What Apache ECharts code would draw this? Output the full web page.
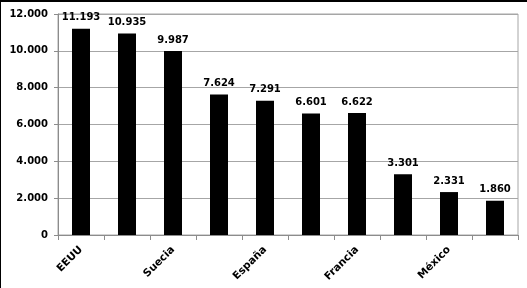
<!DOCTYPE html>
<html><head><meta charset="utf-8">
<script src="https://cdn.jsdelivr.net/npm/echarts@6/dist/echarts.min.js"></script>
<style>html,body{margin:0;padding:0;background:#fff}#wrap{position:relative;width:527px;height:288px}#c{width:527px;height:288px}#b{position:absolute;left:0;top:0;width:527px;height:288px;box-sizing:border-box;border-top:2px solid #000;border-left:1px solid #000;pointer-events:none}</style>
</head><body><div id="wrap"><div id="c"></div><div id="b"></div></div>
<script>
const categories = ['EEUU', '', 'Suecia', '', 'España', '', 'Francia', '', 'México', ''];
const values = [11193, 10935, 9987, 7624, 7291, 6601, 6622, 3301, 2331, 1860];
const yTicks = {min: 0, max: 12000, interval: 2000};

const fmt = v => v === 0 ? '0' : (v / 1000).toFixed(3);
const chart = echarts.init(document.getElementById('c'), null, {renderer: 'canvas'});
chart.setOption({
  animation: false,
  grid: {left: 58, right: 9, top: 14, bottom: 53, show: true, borderColor: '#a6a6a6', borderWidth: 1},
  xAxis: {
    type: 'category', data: categories,
    axisLine: {lineStyle: {color: '#8c8c8c'}},
    axisTick: {show: true, length: 5, interval: 0, lineStyle: {color: '#8c8c8c'}},
    axisLabel: {interval: 0, rotate: 45, color: '#000', fontFamily: 'DejaVu Sans', fontWeight: 'bold', fontSize: 10.5, margin: 13}
  },
  yAxis: {
    type: 'value', min: yTicks.min, max: yTicks.max, interval: yTicks.interval,
    axisLine: {show: true, lineStyle: {color: '#8c8c8c'}},
    axisTick: {show: true, length: 4, lineStyle: {color: '#8c8c8c'}},
    splitLine: {lineStyle: {color: '#a6a6a6'}},
    axisLabel: {formatter: fmt, color: '#000', fontFamily: 'DejaVu Sans', fontWeight: 'bold', fontSize: 10, margin: 10}
  },
  series: [{
    type: 'bar', data: values, barWidth: 18,
    itemStyle: {color: '#000'},
    label: {show: true, position: 'top', formatter: p => fmt(p.value), color: '#000', fontFamily: 'DejaVu Sans', fontWeight: 'bold', fontSize: 10, distance: 6}
  }]
});
</script></body></html>
